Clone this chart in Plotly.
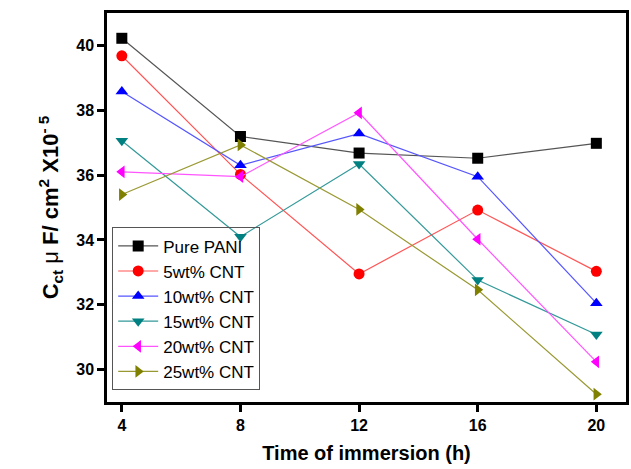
import plotly.graph_objects as go

time_h = [4, 8, 12, 16, 20]
pure_pani = [40.22, 37.19, 36.68, 36.52, 36.98]
cnt_5 = [39.68, 36.02, 32.95, 34.92, 33.03]
cnt_10 = [38.58, 36.30, 37.28, 35.95, 32.05]
cnt_15 = [37.06, 34.10, 36.34, 32.76, 31.08]
cnt_20 = [36.10, 35.95, 37.92, 34.02, 30.24]
cnt_25 = [35.40, 36.93, 34.94, 32.46, 29.24]

series = [
    ("Pure PANI", pure_pani, "black", "#555555", "square"),
    ("5wt% CNT", cnt_5, "red", "#ff5555", "circle"),
    ("10wt% CNT", cnt_10, "blue", "#5555ff", "triangle-up"),
    ("15wt% CNT", cnt_15, "#008080", "#339999", "triangle-down"),
    ("20wt% CNT", cnt_20, "magenta", "#ff55ff", "triangle-left"),
    ("25wt% CNT", cnt_25, "#808000", "#999933", "triangle-right"),
]

fig = go.Figure()
for name, vals, mc, lc, sym in series:
    fig.add_trace(go.Scatter(
        x=time_h, y=vals, name=name, mode="lines+markers",
        line=dict(color=lc, width=1.2),
        marker=dict(color=mc, symbol=sym, size=11, line=dict(width=0)),
    ))

axis_common = dict(
    showline=True, linecolor="black", linewidth=2.5, mirror=True,
    ticks="outside", ticklen=7, tickwidth=2.5, tickcolor="black",
    showgrid=False, zeroline=False,
    tickfont=dict(family="Liberation Sans, Arial", size=16, color="black", weight="bold"),
)

fig.update_layout(
    width=631, height=469,
    margin=dict(l=107, r=2, t=13, b=67),
    paper_bgcolor="white", plot_bgcolor="white",
    xaxis=dict(range=[3.5, 21], tickvals=time_h, **axis_common,
               title=dict(text="<b>Time of immersion (h)</b>",
                          font=dict(family="Liberation Sans, Arial", size=20, color="black"),
                          standoff=14)),
    yaxis=dict(range=[29, 41], tickvals=[30, 32, 34, 36, 38, 40], **axis_common,
               title=dict(text="<b>C<sub>ct</sub></b> μ <b>F/ cm<sup>2</sup> X10<sup>- 5</sup></b>",
                          font=dict(family="Liberation Sans, Arial", size=22, color="black"),
                          standoff=12)),
    legend=dict(x=0.01, y=0.03, xanchor="left", yanchor="bottom",
                bordercolor="#555555", borderwidth=1, bgcolor="rgba(255,255,255,0)",
                font=dict(family="Liberation Sans, Arial", size=17, color="black"),
                tracegroupgap=0, itemwidth=40),
    showlegend=True,
)

fig.write_html("out.html")
